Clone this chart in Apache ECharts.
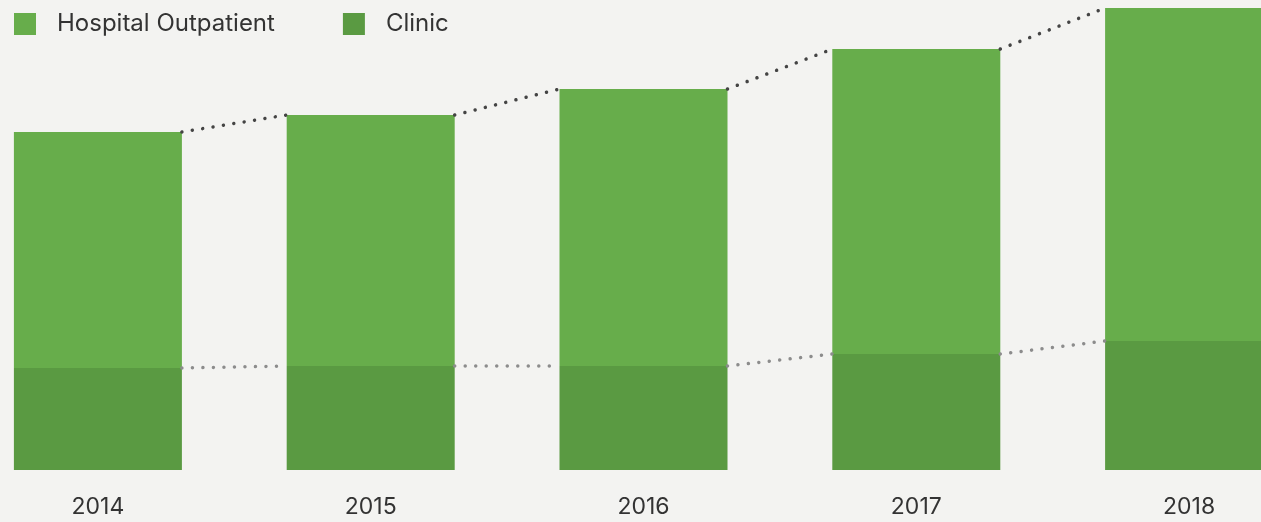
<!DOCTYPE html>
<html>
<head>
<meta charset="utf-8">
<script src="https://cdn.jsdelivr.net/npm/echarts@6/dist/echarts.min.js"></script>
<style>
  html, body { margin: 0; padding: 0; background: #f3f3f1; }
  #main { width: 1261px; height: 522px; }
</style>
</head>
<body>
<div id="main"></div>
<script>
var years = ['2014', '2015', '2016', '2017', '2018'];
var clinic = [102, 104, 104, 116, 129];
var hospital = [236, 251, 277, 305, 333];

var BAR_W = 168;

// totals for the dotted line on top of each stack
var totals = [];
for (var i = 0; i < years.length; i++) {
    totals.push(clinic[i] + hospital[i]);
}

// segment from one bar's corner to the next bar's corner
function segments(vals) {
    var out = [];
    for (var i = 0; i < vals.length - 1; i++) {
        out.push([i, vals[i], vals[i + 1]]);
    }
    return out;
}

function dotted(color) {
    return function (params, api) {
        var i = api.value(0);
        var a = api.coord([i, api.value(1)]);
        var b = api.coord([i + 1, api.value(2)]);
        return {
            type: 'line',
            shape: { x1: a[0] + BAR_W / 2, y1: a[1], x2: b[0] - BAR_W / 2, y2: b[1] },
            style: { stroke: color, lineWidth: 3.5, lineDash: [0.01, 10.5], lineCap: 'round' }
        };
    };
}

var chart = echarts.init(document.getElementById('main'));
chart.setOption({
    backgroundColor: '#f3f3f1',
    animation: false,
    textStyle: { fontFamily: 'Inter, Roboto, sans-serif' },
    legend: {
        left: 14,
        top: 12,
        padding: 0,
        itemWidth: 22,
        itemHeight: 22,
        itemGap: 68,
        icon: 'rect',
        data: ['Hospital Outpatient', 'Clinic'],
        textStyle: { fontSize: 24, color: '#333', padding: [0, 0, 0, 16] }
    },
    grid: { left: -38.5, width: 1364, top: 0, bottom: 52, outerBoundsMode: 'none' },
    xAxis: {
        type: 'category',
        data: years,
        axisLine: { show: false },
        axisTick: { show: false },
        axisLabel: { fontSize: 23, color: '#333', margin: 26 }
    },
    yAxis: { type: 'value', min: 0, max: 470, show: false },
    series: [
        {
            name: 'Clinic', type: 'bar', stack: 'all', barWidth: BAR_W,
            itemStyle: { color: '#5a9a42' }, data: clinic
        },
        {
            name: 'Hospital Outpatient', type: 'bar', stack: 'all', barWidth: BAR_W,
            itemStyle: { color: '#67ad4b' }, data: hospital
        },
        {
            type: 'custom', renderItem: dotted('#8c8c8c'), clip: false, z: 5,
            data: segments(clinic)
        },
        {
            type: 'custom', renderItem: dotted('#444444'), clip: false, z: 5,
            data: segments(totals)
        }
    ]
});
</script>
</body>
</html>
